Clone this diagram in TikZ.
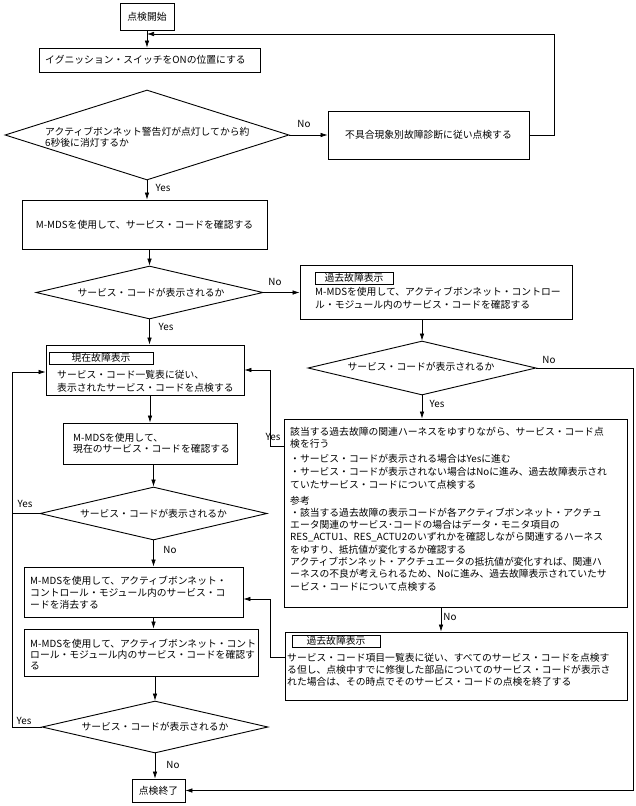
\documentclass[tikz,border=0pt]{standalone}
\usepackage{fontspec}
\setmainfont{Noto Sans CJK JP}
\usetikzlibrary{shapes.geometric,arrows.meta}
\begin{document}
\begin{tikzpicture}[x=1pt,y=-1pt,
  every node/.style={font=\fontsize{9.8}{12.3}\selectfont},
  box/.style={draw, line width=0.9pt, rectangle, inner sep=0pt},
  dia/.style={draw, line width=0.9pt, diamond, inner sep=0pt},
  tagbox/.style={draw, line width=0.6pt, rectangle, inner sep=0pt},
  txt/.style={inner sep=0pt, align=left, anchor=base west},
  mtxt/.style={inner sep=0pt, align=left, anchor=north west},
  lbl/.style={inner sep=0pt},
  conn/.style={line width=0.6pt, -{Latex[length=7pt,width=4.5pt]}},
  plainline/.style={line width=0.6pt}]
\useasboundingbox (0,0) rectangle (636,806);

% ---------- boxes ----------
\node[box, minimum width=54pt, minimum height=27pt] (start) at (147,16.5) {点検開始};
\node[box, minimum width=221pt, minimum height=24pt] (ign) at (149.5,60) {};
\node[txt] (ignt) at (45,63.7) {イグニッション・スイッチをONの位置にする};

\node[dia, minimum width=284pt, minimum height=90pt] (d1) at (147,135) {};
\node[mtxt, font=\fontsize{9.8}{11}\selectfont] (d1t) at (45,126.6) {アクティブボンネット警告灯が点灯してから約\\6秒後に消灯するか};

\node[box, minimum width=201pt, minimum height=48pt] (nofix) at (428.5,135) {不具合現象別故障診断に従い点検する};

\node[box, minimum width=245pt, minimum height=49pt] (mmds1) at (144.5,224.5) {M-MDSを使用して、サービス・コードを確認する};

\node[dia, minimum width=227pt, minimum height=53pt] (d2) at (149.5,292.5) {};
\node[lbl] (d2t) at (151,293) {サービス・コードが表示されるか};

\node[box, minimum width=272pt, minimum height=54pt] (past1) at (436,292) {};
\node[tagbox, minimum width=78pt, minimum height=12pt] (tag1) at (354,278) {過去故障表示};
\node[mtxt, font=\fontsize{9.8}{12.8}\selectfont] (past1t) at (315,286.6) {M-MDSを使用して、アクティブボンネット・コントロー\\ル・モジュール内のサービス・コードを確認する};

\node[dia, minimum width=228pt, minimum height=54pt] (d3) at (422,368) {};
\node[lbl] (d3t) at (421,367) {サービス・コードが表示されるか};

\node[box, minimum width=343pt, minimum height=188pt] (box3) at (455.5,513) {};
\node[mtxt, font=\fontsize{9.8}{12.3}\selectfont] (box3t) at (290,426.6) {該当する過去故障の関連ハーネスをゆすりながら、サービス・コード点\\
検を行う\\[2.5pt]
・サービス・コードが表示される場合はYesに進む\\[1.5pt]
・サービス・コードが表示されない場合はNoに進み、過去故障表示され\\
ていたサービス・コードについて点検する\\[3.5pt]
参考\\
・該当する過去故障の表示コードが各アクティブボンネット・アクチュ\\
エータ関連のサービス･コードの場合はデータ・モニタ項目の\\
RES\_ACTU1、RES\_ACTU2のいずれかを確認しながら関連するハーネス\\
をゆすり、抵抗値が変化するか確認する\\
アクティブボンネット・アクチュエータの抵抗値が変化すれば、関連ハ\\
ーネスの不良が考えられるため、Noに進み、過去故障表示されていたサ\\
ービス・コードについて点検する};

\node[box, minimum width=198pt, minimum height=50pt] (now) at (145,370) {};
\node[tagbox, minimum width=104pt, minimum height=12pt] (tag0) at (101,358) {現在故障表示};
\node[mtxt, font=\fontsize{9.8}{13}\selectfont] (nowt) at (57,369.6) {サービス・コード一覧表に従い、\\表示されたサービス・コードを点検する};

\node[box, minimum width=174pt, minimum height=41pt] (cur) at (150,443.5) {};
\node[mtxt, font=\fontsize{9.8}{11.5}\selectfont] (curt) at (73,432.6) {M-MDSを使用して、\\現在のサービス・コードを確認する};

\node[dia, minimum width=227pt, minimum height=53pt] (d4) at (153.5,513.5) {};
\node[lbl] (d4t) at (153.5,513.5) {サービス・コードが表示されるか};

\node[box, minimum width=219pt, minimum height=50pt] (del) at (133.5,592) {};
\node[mtxt, font=\fontsize{9.8}{12}\selectfont] (delt) at (30,575.6) {M-MDSを使用して、アクティブボンネット・\\コントロール・モジュール内のサービス・コ\\ードを消去する};

\node[box, minimum width=234pt, minimum height=47pt] (conf) at (141,652.5) {};
\node[mtxt, font=\fontsize{9.8}{11}\selectfont] (conft) at (30,638.6) {M-MDSを使用して、アクティブボンネット・コント\\ロール・モジュール内のサービス・コードを確認す\\る};

\node[dia, minimum width=226pt, minimum height=52pt] (d5) at (155,727) {};
\node[lbl] (d5t) at (155,727) {サービス・コードが表示されるか};

\node[box, minimum width=53pt, minimum height=23pt] (end) at (158.5,790.5) {点検終了};

\node[box, minimum width=342pt, minimum height=68pt] (past2) at (456,666) {};
\node[tagbox, minimum width=88pt, minimum height=12pt] (tag2) at (336,641) {過去故障表示};
\node[mtxt, font=\fontsize{9.8}{12}\selectfont] (past2t) at (287,652.6) {サービス・コード項目一覧表に従い、すべてのサービス・コードを点検す\\る但し、点検中すでに修復した部品についてのサービス・コードが表示さ\\れた場合は、その時点でそのサービス・コードの点検を終了する};

% ---------- helper coordinates ----------
\coordinate (rloop) at (554,34);
\coordinate (rbot) at (633,790.5);
\coordinate (yj) at (270,446);
\coordinate (nx) at (441,620);
\coordinate (pj) at (270,657);
\coordinate (dj) at (270,599);
\coordinate (lx) at (12,372);

% ---------- connectors ----------
\draw[conn] (start.south) -- (start.south |- ign.north);
\draw[conn] (nofix.east) -| (rloop) -- (start.south |- rloop);
\draw[conn] (d1.south) -- (d1.south |- mmds1.north);
\draw[conn] (d1.east) -- (nofix.west);
\draw[conn] (d2.north |- mmds1.south) -- (d2.north);
\draw[conn] (d2.east) -- (d2.east -| past1.west);
\draw[conn] (d2.south) -- (d2.south |- now.north);
\draw[conn] (d3.north |- past1.south) -- (d3.north);
\draw[conn] (d3.south) -- (d3.south |- box3.north);
\draw[conn] (d3.east) -| (rbot) -- (end.east);
\draw[conn] (box3.west |- yj) -- (yj) |- (now.east);
\draw[conn] (box3.south -| nx) -- (past2.north -| nx);
\draw[conn] (past2.west |- pj) -- (pj) -- (dj) -- (del.east |- dj);
\draw[conn] (now.south -| cur.north) -- (cur.north);
\draw[conn] (cur.south -| d4.north) -- (d4.north);
\draw[conn] (d4.south) -- (d4.south |- del.north);
\draw[conn] (del.south -| d4.south) -- (conf.north -| d4.south);
\draw[conn] (conf.south -| d5.north) -- (d5.north);
\draw[conn] (d5.south) -- (d5.south |- end.north);
\draw[conn] (d5.west) -| (lx) -- (lx -| now.west);
\draw[plainline] (d4.west) -- (d4.west -| lx);

% ---------- labels ----------
\node[lbl] (l1) at (304,124) {No};
\node[lbl] (l2) at (163,188) {Yes};
\node[lbl] (l3) at (275,282) {No};
\node[lbl] (l4) at (166,327) {Yes};
\node[lbl] (l5) at (549,360) {No};
\node[lbl] (l6) at (437,404) {Yes};
\node[lbl] (l7) at (273,437) {Yes};
\node[lbl] (l8) at (450,617) {No};
\node[lbl] (l9) at (25,504) {Yes};
\node[lbl] (l10) at (170,550) {No};
\node[lbl] (l11) at (24,721) {Yes};
\node[lbl] (l12) at (173,765) {No};
\end{tikzpicture}
\end{document}
